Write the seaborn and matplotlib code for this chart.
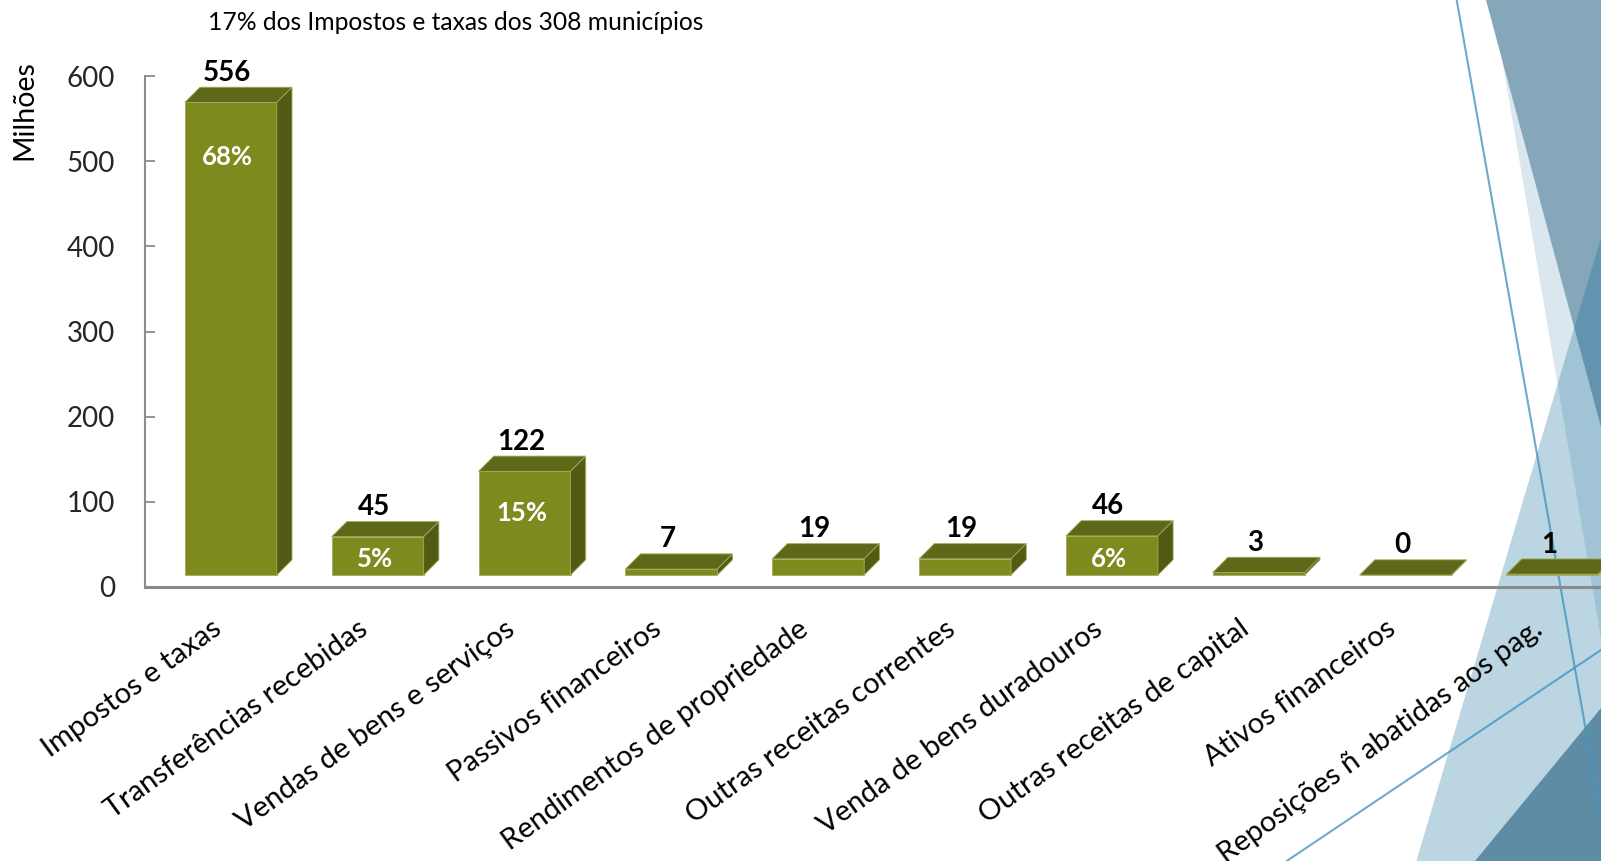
import matplotlib
matplotlib.use("Agg")
import matplotlib.pyplot as plt
from matplotlib.patches import Polygon
from matplotlib.transforms import ScaledTranslation
import seaborn as sns
import pandas as pd

# Receitas por rubrica (milhões de euros)
categories = [
    "Impostos e taxas",
    "Transferências recebidas",
    "Vendas de bens e serviços",
    "Passivos financeiros",
    "Rendimentos de propriedade",
    "Outras receitas correntes",
    "Venda de bens duradouros",
    "Outras receitas de capital",
    "Ativos financeiros",
    "Reposições ñ abatidas aos pag.",
]
values = [556, 45, 122, 7, 19, 19, 46, 3, 0, 1]
shares = ["68%", "5%", "15%", "", "", "", "6%", "", "", ""]
title_text = "17% dos Impostos e taxas dos 308 municípios"
y_label = "Milhões"
y_ticks = [0, 100, 200, 300, 400, 500, 600]

sns.set_style("white")
plt.rcParams["font.family"] = ["Lato", "DejaVu Sans"]

W, H = 1601, 861
fig = plt.figure(figsize=(W / 100, H / 100), dpi=100)
fig.patch.set_facecolor("white")

# ---- decorative facets on the right edge (pixel coordinates, y down) ----
bg = fig.add_axes([0, 0, 1, 1], zorder=0)
bg.set_xlim(0, W)
bg.set_ylim(H, 0)
bg.axis("off")
bg.add_patch(Polygon([(1492, 0), (1700, 0), (1700, 861), (1639, 861)],
                     closed=True, facecolor="#DAE7EF", edgecolor="none"))
bg.add_patch(Polygon([(1486, 0), (1700, 0), (1700, 795)],
                     closed=True, facecolor="#86A7BA", edgecolor="none"))
bg.add_patch(Polygon([(1416.4, 861), (1700, -97), (1700, 861)],
                     closed=True, facecolor=(7 / 255, 100 / 255, 148 / 255, 0.27),
                     edgecolor="none"))
bg.add_patch(Polygon([(1475, 861), (1700, 588), (1700, 861)],
                     closed=True, facecolor="#5E8CA4", edgecolor="none"))
line_col = (70 / 255, 150 / 255, 190 / 255, 0.8)
bg.plot([1456.7, 1609], [0, 861], color=line_col, lw=1.5)
bg.plot([1286.7, 1601 + 50], [861, 650 - 50 * 0.671], color=line_col, lw=1.5)

# ---- main chart ----
ax_left, ax_right_px = 145, W
ax_bottom_px, ax_top_px = 586.5, 76.5
ax = fig.add_axes([ax_left / W, (H - ax_bottom_px) / H,
                   (ax_right_px - ax_left) / W, (ax_bottom_px - ax_top_px) / H],
                  zorder=2)
ax.patch.set_alpha(0)

front_col = "#7F8A1E"
top_col = "#5F6819"
side_col = "#525A14"
edge_col = "#A3AD5A"

bar_w = 0.6265      # front face width (category units)
depth_x = 0.1035    # 3-D depth, horizontal (category units)
depth_y = 17.9      # 3-D depth, vertical (value units)
floor = 13.5        # front faces sit on a floor above the axis line

df = pd.DataFrame({"categoria": categories, "valor": values})
sns.barplot(data=df, x="categoria", y="valor", order=categories,
            color=front_col, saturation=1, width=bar_w, ax=ax,
            edgecolor=edge_col, linewidth=0.6, zorder=3)
for p in ax.patches:
    p.set_y(floor)

for i, v in enumerate(values):
    x0, x1 = i - bar_w / 2, i + bar_w / 2
    top = floor + v
    ax.add_patch(Polygon([(x0, top), (x0 + depth_x, top + depth_y),
                          (x1 + depth_x, top + depth_y), (x1, top)],
                         closed=True, facecolor=top_col, edgecolor=edge_col,
                         linewidth=0.6, zorder=3))
    ax.add_patch(Polygon([(x1, floor), (x1, top), (x1 + depth_x, top + depth_y),
                          (x1 + depth_x, floor + depth_y)],
                         closed=True, facecolor=side_col, edgecolor=edge_col,
                         linewidth=0.6, zorder=3))
    ax.text(i - 0.025, top + depth_y + 17, f"{v}", ha="center", va="center",
            fontsize=20, fontweight="bold", color="black", zorder=5)
    if shares[i]:
        ax.text(i - 0.02, top - min(0.3 * v + 13, 64), shares[i],
                ha="center", va="center", fontsize=18.5, fontweight="bold",
                color="white", zorder=5)

ax.set_xlim(-0.5843, 9.3306)
ax.set_ylim(0, 600)
ax.set_yticks(y_ticks)
ax.set_yticklabels([str(t) for t in y_ticks], fontsize=20)

# category labels: rotated, anchored by their top-right corner under each bar
ax.set_xticks(range(len(categories)))
ax.set_xticklabels([])
label_trans = ax.get_xaxis_transform() + ScaledTranslation(
    -20 / 100, -29 / 100, fig.dpi_scale_trans)
for i, lab in enumerate(categories):
    ax.text(i, 0, lab, transform=label_trans, rotation=36, ha="right",
            va="top", rotation_mode="anchor", fontsize=21, color="black",
            clip_on=False)

ax.set_xlabel("")
ax.set_ylabel("")
ax.tick_params(axis="x", length=0)
ax.tick_params(axis="y", direction="in", length=7, width=1.3,
               color="#8C8C8C", pad=21.6, left=True)
for s in ("top", "right"):
    ax.spines[s].set_visible(False)
ax.spines["left"].set_color("#8C8C8C")
ax.spines["left"].set_linewidth(1.5)
ax.spines["bottom"].set_color("#8A8A8A")
ax.spines["bottom"].set_linewidth(2.2)
ax.spines["bottom"].set_zorder(6)
ax.grid(False)

fig.text(456 / W, 1 - 23 / H, title_text, ha="center", va="center",
         fontsize=17.7, color="black")
fig.text(24 / W, 1 - 110 / H, y_label, ha="center", va="center",
         rotation=90, fontsize=20.5, color="black")

fig.savefig("out.png", dpi=100, facecolor="white")
